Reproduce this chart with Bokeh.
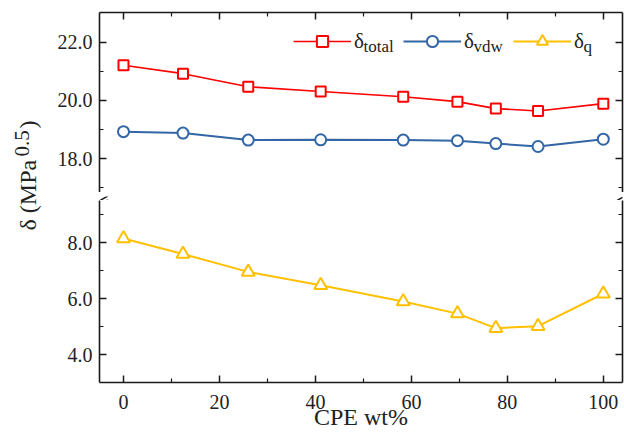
import math
from bokeh.plotting import figure
from bokeh.layouts import column, row
from bokeh.models import (Range1d, LinearAxis, FixedTicker, PrintfTickFormatter,
                          Legend, LegendItem, Label)
from bokeh.embed import file_html
from bokeh.resources import INLINE

# ---------------- data ----------------
cpe = [0, 12.4, 26, 41.1, 58.3, 69.6, 77.6, 86.4, 100]
delta_total = [21.21, 20.92, 20.47, 20.31, 20.13, 19.96, 19.72, 19.64, 19.89]
delta_vdw = [18.93, 18.88, 18.64, 18.65, 18.64, 18.62, 18.52, 18.42, 18.67]
delta_q = [8.14, 7.59, 6.95, 6.47, 5.89, 5.46, 4.94, 5.01, 6.17]

x_ticks = [0, 20, 40, 60, 80, 100]
x_minor = [10, 30, 50, 70, 90]
upper_ticks = [18, 20, 22]
upper_minor = [17, 19, 21]
lower_ticks = [4, 6, 8]
lower_minor = [5, 7, 9]

legend_names = ["total", "vdw", "q"]

# ---------------- styles ----------------
FONT = "Liberation Serif"
AX = "#1a1a1a"
TXT = "#222222"
RED = "#FF0000"
BLUE = "#3366A6"
GOLD = "#FFC000"
W_MAIN = 574

x_range = Range1d(-5, 104)


def bare_fig(w, h, xr, yr, left=0, right=0, top=0, bottom=0):
    p = figure(width=w, height=h, x_range=xr, y_range=yr,
               output_backend="svg", toolbar_location=None,
               x_axis_location=None, y_axis_location=None,
               min_border_left=left, min_border_right=right,
               min_border_top=top, min_border_bottom=bottom)
    p.outline_line_color = None
    p.background_fill_color = "white"
    p.border_fill_color = "white"
    p.grid.visible = False
    return p


def axis(ticks, minor, labels, fmt=None, standoff=7):
    ax = LinearAxis(ticker=FixedTicker(ticks=ticks, minor_ticks=minor))
    if fmt is not None:
        ax.formatter = PrintfTickFormatter(format=fmt)
    ax.axis_line_color = AX
    ax.axis_line_width = 1.6
    ax.major_tick_line_color = AX
    ax.major_tick_line_width = 1.5
    ax.major_tick_in = 7
    ax.major_tick_out = 0
    ax.minor_tick_line_color = AX
    ax.minor_tick_line_width = 1.2
    ax.minor_tick_in = 4
    ax.minor_tick_out = 0
    if labels:
        ax.major_label_text_font = FONT
        ax.major_label_text_font_size = "20px"
        ax.major_label_text_color = TXT
        ax.major_label_standoff = standoff
    else:
        ax.major_label_text_font_size = "0px"
        ax.major_label_standoff = 0
    return ax


# ---------------- upper panel ----------------
p_up = bare_fig(W_MAIN, 192, x_range, Range1d(16.84, 23.02), left=49, right=2, top=12)
p_up.add_layout(axis(upper_ticks, upper_minor, True, "%.1f"), "left")
p_up.add_layout(axis(upper_ticks, upper_minor, False), "right")
p_up.add_layout(axis(x_ticks, x_minor, False), "above")

l_tot = p_up.line(cpe, delta_total, line_color=RED, line_width=1.6)
s_tot = p_up.scatter(cpe, delta_total, marker="square", size=10, line_color=RED,
                     line_width=2, fill_color="white")
l_vdw = p_up.line(cpe, delta_vdw, line_color=BLUE, line_width=2)
s_vdw = p_up.scatter(cpe, delta_vdw, marker="circle", size=11, line_color=BLUE,
                     line_width=2, fill_color="white")
# delta_q lies outside the upper range (clipped); used for its legend entry
l_q_up = p_up.line(cpe, delta_q, line_color=GOLD, line_width=2)
s_q_up = p_up.scatter(cpe, delta_q, marker="triangle", size=13, line_color=GOLD,
                      line_width=2, fill_color="white")

legend = Legend(items=[
    LegendItem(label="δ", renderers=[l_tot, s_tot]),
    LegendItem(label="δ", renderers=[l_vdw, s_vdw]),
    LegendItem(label="δ", renderers=[l_q_up, s_q_up]),
], orientation="horizontal", location=(194, 137), glyph_width=58, glyph_height=28,
    label_standoff=3, label_width=49, spacing=0, padding=0, margin=0,
    border_line_color=None, background_fill_alpha=0,
    label_text_font=FONT, label_text_font_size="21px", label_text_color=TXT)
p_up.add_layout(legend)

for i, name in enumerate(legend_names):
    p_up.add_layout(Label(x=264 + 110 * i, y=146, x_units="screen", y_units="screen",
                          text=name, text_font=FONT, text_font_size="17px",
                          text_color=TXT, text_baseline="alphabetic"))

# ---------------- break strip ----------------
p_gap = bare_fig(W_MAIN, 8, Range1d(-5.834, 104.42), Range1d(0, 8), left=45, right=0)
for xb in (-5, 104):
    p_gap.segment(x0=[xb - 0.9, xb - 0.9], y0=[3.5, -0.5], x1=[xb + 0.9, xb + 0.9],
                  y1=[8.5, 4.5], line_color=AX, line_width=1.5)

# ---------------- lower panel ----------------
p_low = bare_fig(W_MAIN, 233, x_range, Range1d(3.0, 9.5), left=49, right=2, bottom=51)
p_low.add_layout(axis(lower_ticks, lower_minor, True, "%.1f"), "left")
p_low.add_layout(axis(lower_ticks, lower_minor, False), "right")
xax = axis(x_ticks, x_minor, True, standoff=12)
xax.axis_label = "CPE wt%"
xax.axis_label_text_font = FONT
xax.axis_label_text_font_size = "24px"
xax.axis_label_text_font_style = "normal"
xax.axis_label_text_color = TXT
xax.axis_label_standoff = -8
p_low.add_layout(xax, "below")

p_low.line(cpe, delta_q, line_color=GOLD, line_width=2)
p_low.scatter(cpe, delta_q, marker="triangle", size=13, line_color=GOLD,
              line_width=2, fill_color="white")

# ---------------- y title strip ----------------
p_ylab = bare_fig(50, 433, Range1d(0, 50), Range1d(0, 433))
p_ylab.add_layout(Label(x=27, y=203, text="δ (MPa", angle=math.pi / 2, text_font=FONT,
                        text_font_size="24px", text_color=TXT,
                        text_align="left", text_baseline="alphabetic"))
p_ylab.add_layout(Label(x=21, y=277, text="0.5", angle=math.pi / 2, text_font=FONT,
                        text_font_size="21px", text_color=TXT,
                        text_align="left", text_baseline="alphabetic"))
p_ylab.add_layout(Label(x=27, y=305, text=")", angle=math.pi / 2, text_font=FONT,
                        text_font_size="24px", text_color=TXT,
                        text_align="left", text_baseline="alphabetic"))

layout = row(p_ylab, column(p_up, p_gap, p_low, spacing=0), spacing=0)

open("out.html", "w").write(file_html(layout, INLINE))
